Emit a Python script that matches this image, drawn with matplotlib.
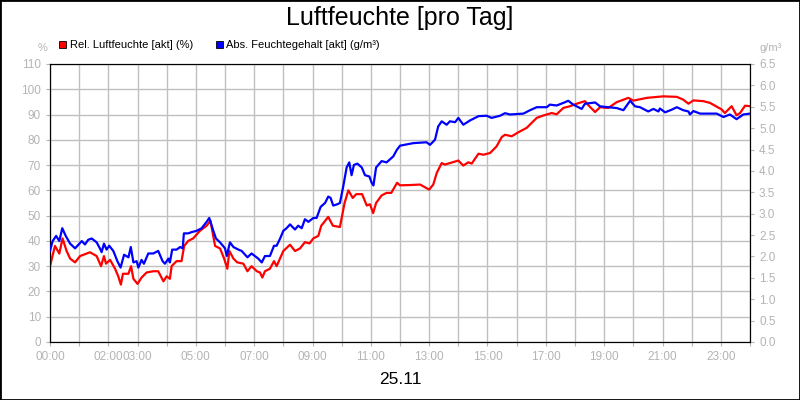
import matplotlib
matplotlib.use("Agg")
import matplotlib.pyplot as plt
from matplotlib.patches import Rectangle

plt.rcParams['font.family'] = ['Liberation Sans', 'DejaVu Sans']

rel_hours = [0.0,0.17,0.32,0.43,0.57,0.69,0.86,1.03,1.37,1.6,1.75,1.85,1.92,2.06,2.23,2.34,2.43,2.5,2.69,2.78,2.86,3.0,3.14,3.31,3.54,3.71,3.89,4.0,4.11,4.17,4.34,4.51,4.6,4.74,4.91,5.14,5.37,5.5,5.66,5.83,5.97,6.08,6.15,6.29,6.42,6.63,6.77,6.91,7.09,7.2,7.28,7.37,7.54,7.68,7.77,8.0,8.23,8.4,8.57,8.74,8.9,9.03,9.2,9.3,9.54,9.7,9.94,10.1,10.23,10.38,10.5,10.7,10.86,10.97,11.08,11.18,11.37,11.54,11.7,11.9,12.0,12.34,12.69,13.0,13.14,13.26,13.43,13.54,13.71,14.0,14.17,14.34,14.46,14.69,14.86,15.09,15.31,15.49,15.6,15.83,16.06,16.34,16.69,16.91,17.2,17.37,17.6,17.83,18.06,18.34,18.49,18.69,18.86,19.14,19.43,19.83,20.0,20.46,21.03,21.49,21.71,21.89,22.06,22.4,22.63,23.03,23.14,23.37,23.54,23.66,23.83,24.0]
rel_values = [30,38,35,41,36,33,31.5,34,35.5,34,30,34,31,32.5,29,26,22.7,27,27,30,25,23,25.5,27.5,28,28,24,26,25,30,32,32,38,40,41,44,46,48,38,37,33,29,36,33,31.5,31,28,30,28,27.5,25.5,28,29,32,30,36,38.5,36,37,39.5,39,41,42,46,49.5,46,45.5,55,60,57,58.5,58.5,54,54.5,51,55,58,59,59,63,62,62.1,62.3,60.3,62.3,66.9,70.8,70.2,70.8,71.8,69.8,71.1,70.6,74.5,74.1,74.8,77.4,81.1,82,81.4,83,84.7,88.7,89.6,90.6,90.1,92.6,93.3,94.3,95.3,93.3,91,92.9,92.6,94.9,96.6,95.5,96.6,97.2,97,95.9,94.3,95.6,95.3,94.6,92,90.6,93.3,89.7,90.6,93.5,93.3]

abs_hours = [0.0,0.09,0.21,0.32,0.42,0.54,0.69,0.86,1.09,1.2,1.31,1.43,1.6,1.71,1.77,1.85,1.94,2.03,2.17,2.31,2.42,2.54,2.69,2.77,2.86,2.97,3.03,3.14,3.22,3.37,3.54,3.71,3.86,3.94,4.06,4.11,4.19,4.34,4.46,4.55,4.59,4.74,4.86,5.03,5.2,5.37,5.46,5.6,5.69,5.83,6.0,6.06,6.17,6.29,6.46,6.57,6.77,6.91,7.14,7.26,7.37,7.54,7.68,7.77,7.89,8.0,8.11,8.23,8.4,8.51,8.63,8.74,8.86,9.03,9.14,9.28,9.43,9.54,9.62,9.71,9.85,9.94,10.06,10.17,10.26,10.34,10.42,10.54,10.69,10.8,10.95,11.03,11.09,11.18,11.37,11.54,11.77,11.89,12.0,12.46,12.91,13.03,13.2,13.31,13.43,13.6,13.71,13.89,14.0,14.17,14.4,14.69,14.97,15.14,15.43,15.6,15.77,16.23,16.46,16.69,17.03,17.14,17.37,17.6,17.77,17.94,18.23,18.34,18.69,18.86,19.14,19.43,19.66,19.89,20.06,20.23,20.51,20.69,20.86,20.91,21.09,21.31,21.49,21.71,21.89,21.94,22.06,22.29,22.86,23.09,23.31,23.54,23.77,24.0]
abs_values = [2.13,2.36,2.48,2.36,2.66,2.48,2.30,2.19,2.36,2.28,2.39,2.42,2.33,2.19,2.10,2.30,2.16,2.25,2.13,1.89,1.74,2.04,1.98,2.22,1.86,1.89,1.74,1.92,1.83,2.07,2.07,2.13,1.89,1.83,1.95,1.86,2.16,2.16,2.22,2.19,2.54,2.54,2.57,2.60,2.66,2.81,2.90,2.60,2.42,2.33,2.19,2.01,2.33,2.22,2.16,2.13,1.98,2.07,1.95,1.86,2.01,2.01,2.25,2.25,2.42,2.60,2.66,2.75,2.63,2.72,2.66,2.87,2.81,2.90,2.90,3.16,3.25,3.40,3.37,3.19,3.22,3.25,3.66,4.08,4.20,3.90,4.14,4.17,4.08,3.90,3.87,3.72,3.66,4.08,4.23,4.20,4.34,4.49,4.59,4.65,4.67,4.61,4.73,5.04,5.16,5.08,5.16,5.14,5.24,5.08,5.18,5.28,5.29,5.24,5.29,5.35,5.32,5.34,5.42,5.49,5.49,5.55,5.53,5.59,5.64,5.55,5.45,5.57,5.60,5.51,5.49,5.47,5.42,5.64,5.51,5.49,5.39,5.45,5.39,5.46,5.37,5.43,5.49,5.42,5.39,5.32,5.40,5.34,5.34,5.26,5.32,5.21,5.32,5.34]

tick_hours = [0, 2, 3, 5, 7, 9, 11, 13, 15, 17, 19, 21, 23]
tick_labels = ["00:00", "02:00", "03:00", "05:00", "07:00", "09:00", "11:00",
               "13:00", "15:00", "17:00", "19:00", "21:00", "23:00"]

grey = "#b4b4b4"
fig = plt.figure(figsize=(8, 4), dpi=100)
fig.patches.append(Rectangle((0, 0), 1, 1, transform=fig.transFigure, fill=False,
                             edgecolor="black", linewidth=2))
ax = fig.add_axes([0.0625, 0.145, 0.875, 0.695])
ax2 = ax.twinx()
ax.set_xlim(0, 24)
ax.set_ylim(0, 110)
ax2.set_ylim(0, 6.5)
ax.set_xticks(range(25))
ax.set_xticklabels([tick_labels[tick_hours.index(h)] if h in tick_hours else "" for h in range(25)])
ax.set_yticks(range(0, 111, 10))
ax2.set_yticks([i * 0.5 for i in range(14)])
ax2.set_yticklabels([f"{i*0.5:.1f}" for i in range(14)])
ax.grid(True, color="#c0c0c0", linewidth=1)
for a in (ax, ax2):
    a.tick_params(colors=grey, labelsize=8.5, length=3, labelcolor=grey)
    for s in a.spines.values():
        s.set_color("black")
ax.plot(rel_hours, rel_values, color="#ff0000", linewidth=1.6, zorder=3)
ax2.plot(abs_hours, abs_values, color="#0000ff", linewidth=1.6, zorder=3)

fig.text(0.5, 0.955, "Luftfeuchte [pro Tag]", ha="center", va="center", fontsize=18)
fig.text(0.5, 0.05, "25.11", ha="center", va="center", fontsize=12.5)
fig.text(0.053, 0.88, "%", ha="center", va="center", fontsize=8, color=grey)
fig.text(0.963, 0.88, "g/m³", ha="center", va="center", fontsize=8, color=grey)
fig.add_artist(Rectangle((0.074, 0.879), 0.009, 0.018, transform=fig.transFigure,
                         facecolor="#ff0000", edgecolor="black", linewidth=0.6))
fig.text(0.087, 0.888, "Rel. Luftfeuchte [akt] (%)", va="center", fontsize=8)
fig.add_artist(Rectangle((0.27, 0.879), 0.009, 0.018, transform=fig.transFigure,
                         facecolor="#0000ff", edgecolor="black", linewidth=0.6))
fig.text(0.283, 0.888, "Abs. Feuchtegehalt [akt] (g/m³)", va="center", fontsize=8)
fig.savefig("out.png", dpi=100)
